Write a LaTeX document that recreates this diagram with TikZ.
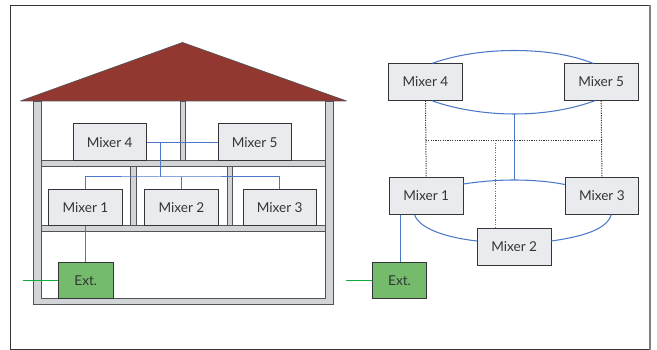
\documentclass[tikz,border=0pt]{standalone}
\usepackage{fontspec}
\setmainfont{Lato}
\usetikzlibrary{calc}
\definecolor{boxfill}{HTML}{E9EBEE}
\definecolor{wallfill}{HTML}{D2D5D8}
\definecolor{roofred}{HTML}{933830}
\definecolor{extgreen}{HTML}{74BC6C}
\definecolor{linkblue}{HTML}{4A78C8}
\definecolor{linkgreen}{HTML}{10AC3C}
\definecolor{ink}{HTML}{333538}
\tikzset{
  x=1pt,y=-1pt,
  mixer/.style={draw=ink,line width=0.9pt,fill=boxfill,text=ink,minimum width=73.5pt,minimum height=36.5pt,inner sep=0pt,font=\fontsize{13.6}{15}\selectfont},
  extbox/.style={mixer,fill=extgreen,minimum width=54.5pt},
  wall/.style={draw=ink!85,line width=0.7pt,fill=wallfill},
  blue link/.style={draw=linkblue,line width=1pt},
  curve link/.style={draw=linkblue,line width=1.05pt},
  green link/.style={draw=linkgreen,line width=1pt},
  dot link/.style={draw=ink,line width=1pt,dash pattern=on 1.2pt off 1.2pt},
}
\begin{document}
\begin{tikzpicture}
\useasboundingbox (0,0) rectangle (657,350);
\draw[ink,line width=0.9pt] (650,5.5) -- (10.5,5.5) -- (10.5,349) -- (650,349);
\draw[gray,line width=1.8pt] (650,5) -- (650,349.5);
% house
\draw[wall] (33,101) -- (41.5,101) -- (41.5,298.7) -- (325,298.7) -- (325,101) -- (333.5,101) -- (333.5,304.7) -- (33,304.7) -- cycle;
\draw[wall] (180.5,101) rectangle (185.5,160.5);
\draw[wall] (41.5,160.5) rectangle (325,166);
\draw[wall] (130.5,166) rectangle (136,225.7);
\draw[wall] (227.5,166) rectangle (232.5,225.7);
\draw[wall] (41.5,225.7) rectangle (325,231);
\draw[draw=ink!85,line width=0.7pt,line join=bevel,fill=roofred] (182.5,42.5) -- (346.5,101) -- (20.5,101) -- cycle;
% left nodes
\node[mixer] (lm4) at (109.7,142.2) {Mixer 4};
\node[mixer] (lm5) at (254.7,142.2) {Mixer 5};
\node[mixer] (lm1) at (85.5,207.6) {Mixer 1};
\node[mixer] (lm2) at (181.5,207.6) {Mixer 2};
\node[mixer] (lm3) at (279.7,207.6) {Mixer 3};
\node[extbox] (lext) at (85.75,280.3) {Ext.};
\coordinate (lin) at (22.5,280.3);
\coordinate (bj) at (160,177);
\coordinate (tj) at (160,142.2);
\coordinate (dl1) at (85,177);
\coordinate (dl2) at (181,177);
\coordinate (dl3) at (279,177);
% left links
\draw[blue link] (lm4) -- (lm5);
\draw[blue link] (tj) -- (bj);
\draw[blue link] (dl1 |- lm1.north) |- (bj) -| (dl3 |- lm3.north);
\draw[blue link] (dl2 |- lm2.north) -- (dl2);
\draw[blue link] (dl1 |- lm1.south) -- (dl1 |- lext.north);
\draw[green link] (lin) -- (lext.west);
% right dotted
\coordinate (dl) at (425.7,140.3);
\coordinate (dr) at (601.5,140.3);
\coordinate (dm) at (495,140.3);
% right nodes
\node[mixer] (rm4) at (425.5,82) {Mixer 4};
\node[mixer] (rm5) at (601.2,82) {Mixer 5};
\node[mixer] (rm1) at (426.2,196) {Mixer 1};
\node[mixer] (rm3) at (601.9,196) {Mixer 3};
\node[mixer] (rm2) at (514.2,247) {Mixer 2};
\node[extbox] (rext) at (399.5,280.3) {Ext.};
\coordinate (rin) at (346,280.3);
\coordinate (rtop) at (514,114);
\coordinate (rbot) at (514,180);
\coordinate (rx) at (400,240);
% dotted links
\draw[dot link] (rm4.south) -- (rm1.north);
\draw[dot link] (rm5.south) -- (rm3.north);
\draw[dot link] (dl) -- (dr);
\draw[dot link,draw=ink!70] (dm) -- (dm |- rm2.north);
% blue links
\draw[curve link] (rm4.north west)++(44,0) .. controls (460,53.5) and (490,50.5) .. (514,50.5) .. controls (540,50.5) and (568,53.5) .. ($(rm5.north west)+(29,0)$);
\draw[curve link] (rm4.south west)++(43.5,0) .. controls (455,109) and (485,114) .. (rtop) .. controls (545,114) and (572,109) .. ($(rm5.south west)+(31,0)$);
\draw[blue link] (rtop) -- (rbot);
\draw[curve link] (rm1.east |- 0,184) .. controls (480,181.5) and (497,180) .. (rbot) .. controls (532,180) and (550,181.5) .. (rm3.west |- 0,184.5);
\draw[curve link] (rm1.south west)++(25.5,0) .. controls (420,230) and (450,238) .. (rm2.west |- 0,241);
\draw[curve link] (rm2.east |- 0,241) .. controls (580,237) and (607,230) .. ($(rm3.south west)+(46.5,0)$);
\draw[blue link] (rx |- rm1.south) -- (rx |- rext.north);
\draw[green link] (rin) -- (rext.west);
\end{tikzpicture}
\end{document}
